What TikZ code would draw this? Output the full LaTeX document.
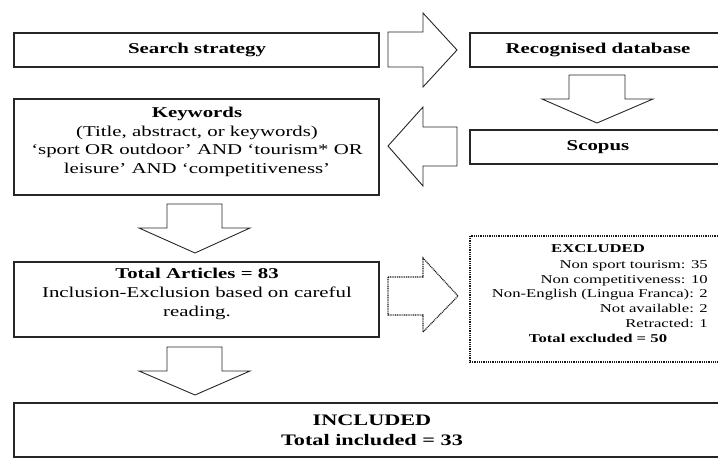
\documentclass[tikz,border=0pt]{standalone}
\usepackage{fontspec}
\setmainfont{Liberation Serif}[FakeStretch=1.39]
\begin{document}
\begin{tikzpicture}[x=1pt,y=-1pt,
  boxline/.style={draw=black!85,line width=1.3pt},
  arrowline/.style={draw=black!85,line width=0.9pt,line join=miter},
  dotline/.style={draw=black!90,line width=1.2pt,dash pattern=on 1pt off 0.8pt},
  bigtext/.style={inner sep=0pt,font=\fontsize{15}{18.6}\selectfont,align=center},
  hugetext/.style={inner sep=0pt,font=\fontsize{16}{20}\selectfont\bfseries,align=center},
  smalltext/.style={inner sep=0pt,font=\fontsize{12}{14.8}\selectfont}]
\useasboundingbox (0,0) rectangle (718,458);
\clip (0,0) rectangle (718,458);
% boxes
\draw[boxline] (14,33) rectangle (379,67);
\draw[boxline] (14,99) rectangle (379,195);
\draw[boxline] (14,262) rectangle (379,337);
\draw[boxline] (14,403) rectangle (730,457);
\draw[boxline] (470,33) rectangle (726,67);
\draw[boxline] (470,130) rectangle (726,164);
\draw[dotline] (470,236) rectangle (730,362);
% texts
\node[bigtext,font=\fontsize{15}{18.6}\selectfont\bfseries] (search) at (197,50) {Search strategy};
\node[bigtext] (kw) at (197,142) {\textbf{Keywords}\\(Title, abstract, or keywords)\\`sport OR outdoor' AND `tourism* OR\\leisure' AND `competitiveness'};
\node[bigtext] (total) at (197,294) {\textbf{Total Articles = 83}\\Inclusion-Exclusion based on careful\\reading.};
\node[hugetext] (incl) at (372,430) {INCLUDED\\Total included = 33};
\node[bigtext,font=\fontsize{15}{18.6}\selectfont\bfseries] (recdb) at (598,50) {Recognised database};
\node[bigtext,font=\fontsize{15}{18.6}\selectfont\bfseries] (scopus) at (598,147) {Scopus};
\node[smalltext,font=\fontsize{12}{14.8}\selectfont\bfseries] (exhead) at (598,249) {EXCLUDED};
\node[smalltext,align=right,anchor=east] (exlist) at (708,294) {Non sport tourism: 35\\Non competitiveness: 10\\Non-English (Lingua Franca): 2\\Not available: 2\\Retracted: 1};
\node[smalltext,font=\fontsize{12}{14.8}\selectfont\bfseries] (extotal) at (598,338) {Total excluded = 50};
% block arrows
\draw[arrowline] (388,32) -- (423,32) -- (423,13) -- (457,50) -- (423,87) -- (423,67) -- (388,67) -- cycle;
\draw[arrowline] (569,75) -- (625,75) -- (625,99) -- (653,99) -- (597,123) -- (542,99) -- (569,99) -- cycle;
\draw[arrowline] (457,127) -- (423,127) -- (423,107) -- (388,146) -- (423,186) -- (423,166) -- (457,166) -- cycle;
\draw[arrowline] (167,204) -- (222,204) -- (222,228) -- (250,228) -- (195,253) -- (139,228) -- (167,228) -- cycle;
\draw[arrowline] (167,347) -- (222,347) -- (222,371) -- (250,371) -- (195,395) -- (139,371) -- (167,371) -- cycle;
\draw[dotline] (388,277) -- (423,277) -- (423,258) -- (458,296) -- (423,332) -- (423,315) -- (388,315) -- cycle;
\end{tikzpicture}
\end{document}
